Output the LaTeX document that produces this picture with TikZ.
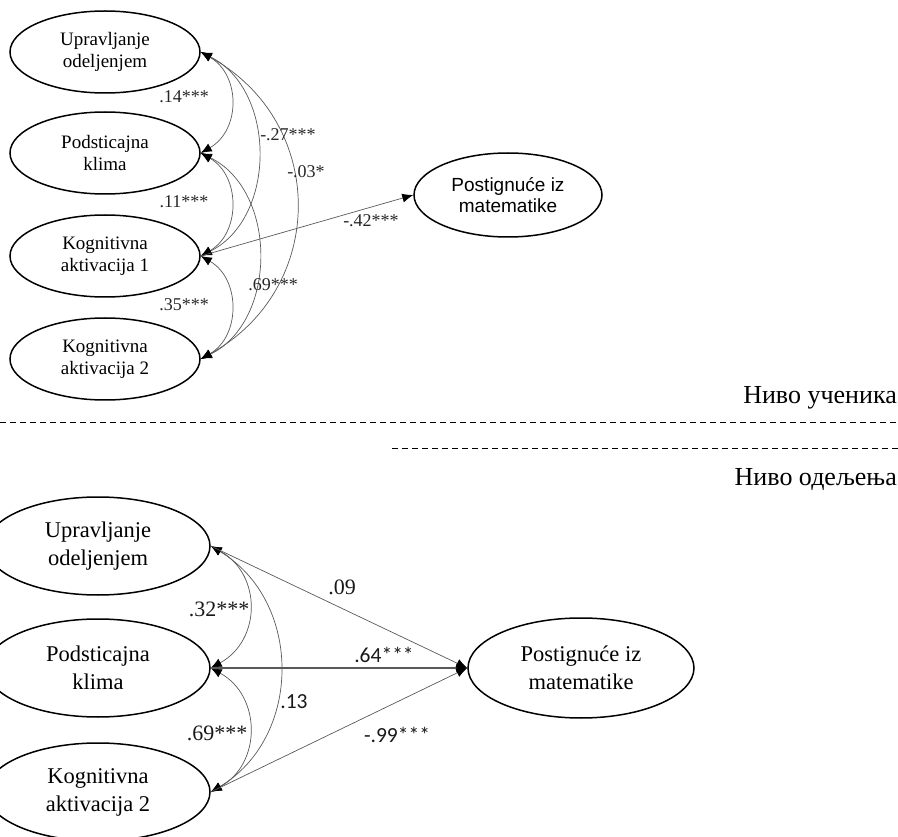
\documentclass[tikz,border=0pt]{standalone}
\usepackage{fontspec}
\setmainfont{Liberation Serif}
\newfontfamily\arialf{Liberation Sans}
\newfontfamily\calf{Carlito}
\usetikzlibrary{shapes.geometric,arrows.meta}
\begin{document}
\begin{tikzpicture}[x=1pt,y=-1pt,
  tip/.tip={Latex[length=11pt,width=9pt,color=black]},
  ellA/.style={ellipse,draw=black,line width=1.5pt,inner sep=0pt,align=center,
    minimum width=190pt,minimum height=82pt,font=\fontsize{19}{21.5}\selectfont},
  ellB/.style={ellipse,draw=black,line width=1.5pt,inner sep=0pt,align=center,
    minimum width=224pt,minimum height=98pt,font=\fontsize{22.5}{28}\selectfont},
  conn/.style={draw=black!65,line width=0.7pt,-tip},
  corr/.style={draw=black!65,line width=0.7pt,tip-tip},
  labA/.style={inner sep=0pt,text=black!85,font=\fontsize{18}{20}\selectfont},
  labB/.style={inner sep=0pt,text=black!90,font=\fontsize{22}{24}\selectfont},
  labC/.style={inner sep=0pt,text=black!90,font=\calf\fontsize{21.5}{24}\selectfont},
  lvl/.style={inner sep=0pt,anchor=base east,font=\fontsize{26}{30}\selectfont},
  dline/.style={line width=1pt,dash pattern=on 6pt off 4pt}]
\useasboundingbox (0,0) rectangle (898,837);

% ---------- upper level ----------
\node[ellA] (u1) at (105,52) {Upravljanje\\odeljenjem};
\node[ellA] (p1) at (105,153) {Podsticajna\\klima};
\node[ellA] (ka) at (105,256) {Kognitivna\\aktivacija 1};
\node[ellA] (kb) at (105,359) {Kognitivna\\aktivacija 2};
\node[ellipse,draw=black,line width=1.5pt,inner sep=0pt,align=center,
  minimum width=188pt,minimum height=84pt,
  font=\arialf\fontsize{19}{20.5}\selectfont] (m1) at (508,195) {Postignuće iz\\matematike};

\draw[corr] (u1.east) .. controls +(40,23) and +(40,-23) .. (p1.east);
\draw[corr] (p1.east) .. controls +(40,23) and +(40,-23) .. (ka.east);
\draw[corr] (ka.east) .. controls +(40,23) and +(40,-23) .. (kb.east);
\draw[corr] (u1.east) .. controls +(76,38) and +(76,-38) .. (ka.east);
\draw[corr] (p1.east) .. controls +(77,38) and +(77,-38) .. (kb.east);
\draw[corr] (u1.east) .. controls +(127,70) and +(127,-70) .. (kb.east);
\draw[conn] (ka.east) -- (m1.west);

\node[labA] (l1) at (184,97) {.14***};
\node[labA] (l2) at (184,202) {.11***};
\node[labA] (l3) at (184,305) {.35***};
\node[labA] (l4) at (288,135) {-.27***};
\node[labA] (l5) at (306,172) {-.03*};
\node[labA] (l6) at (273,285) {.69***};
\node[labA] (l7) at (371,221) {-.42***};

% ---------- level separators ----------
\node[lvl] (t1) at (897,403) {Ниво ученика};
\coordinate (d1a) at (0,422);
\coordinate (d1b) at (898,422);
\coordinate (d2a) at (392,448);
\coordinate (d2b) at (898,448);
\draw[dline] (d1a) -- (d1b);
\draw[dline] (d2a) -- (d2b);
\node[lvl] (t2) at (897,485) {Ниво одељења};

% ---------- lower level ----------
\node[ellB] (u2) at (98,546) {Upravljanje\\odeljenjem};
\node[ellB] (p2) at (98,668) {Podsticajna\\klima};
\node[ellB] (kc) at (98,792) {Kognitivna\\aktivacija 2};
\node[ellB,minimum width=226pt,minimum height=100pt] (m2) at (581,668) {Postignuće iz\\matematike};

\draw[corr] (u2.east) .. controls +(51,28) and +(51,-28) .. (p2.east);
\draw[corr] (p2.east) .. controls +(51,28) and +(51,-28) .. (kc.east);
\draw[corr] (u2.east) .. controls +(92,55) and +(92,-55) .. (kc.east);
\draw[conn] (u2.east) -- (m2.west);
\draw[conn,line width=1.1pt] (p2.east) -- (m2.west);
\draw[conn] (kc.east) -- (m2.west);

\node[labB] (b1) at (342,587) {.09};
\node[labB] (b2) at (219,609) {.32***};
\node[labC] (b3) at (384,655) {.64***};
\node[labC] (b4) at (294,702) {.13};
\node[labB] (b5) at (217,733) {.69***};
\node[labC] (b6) at (397,735) {-.99***};
\end{tikzpicture}
\end{document}
